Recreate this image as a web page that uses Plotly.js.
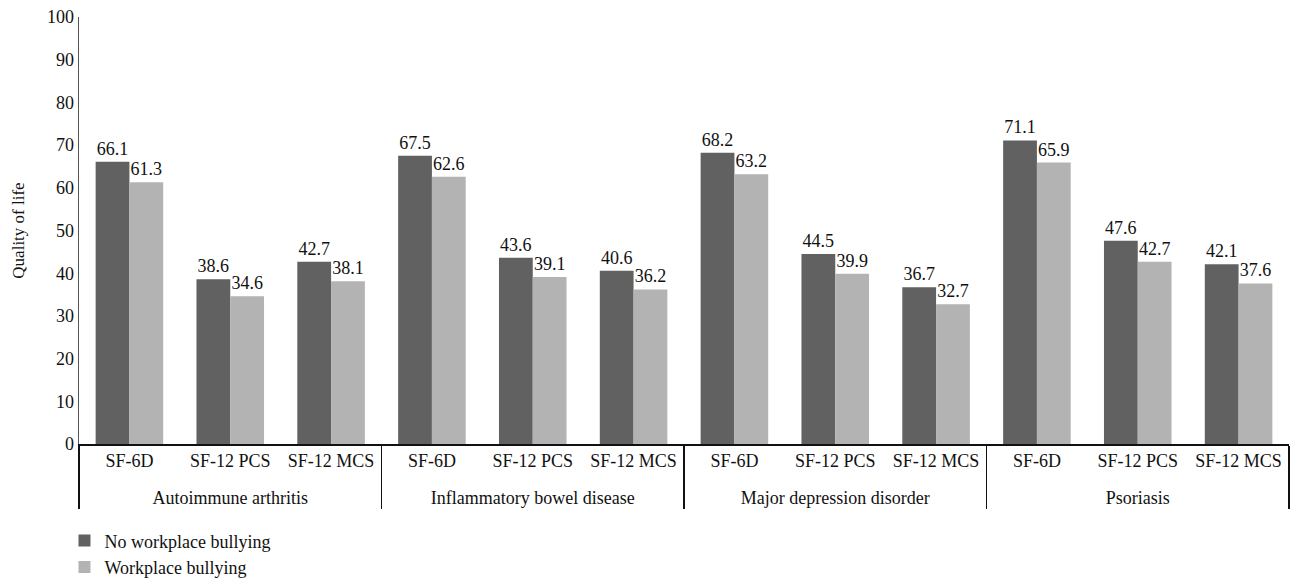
<!DOCTYPE html>
<html>
<head>
<meta charset="utf-8">
<script src="https://cdn.plot.ly/plotly-3.0.1.min.js"></script>
<style>html,body{margin:0;padding:0;background:#fff;}#chart{width:1292px;height:583px;}</style>
</head>
<body>
<div id="chart"></div>
<script>
const diseases = ["Autoimmune arthritis","Inflammatory bowel disease","Major depression disorder","Psoriasis"];
const measures = ["SF-6D","SF-12 PCS","SF-12 MCS"];
const noBullying = [66.1,38.6,42.7, 67.5,43.6,40.6, 68.2,44.5,36.7, 71.1,47.6,42.1];
const bullying   = [61.3,34.6,38.1, 62.6,39.1,36.2, 63.2,39.9,32.7, 65.9,42.7,37.6];
const seriesNames = ["No workplace bullying","Workplace bullying"];
const yTicks = [0,10,20,30,40,50,60,70,80,90,100];

// a tall non-breaking space on each side pushes the disease row lower, as in the reference
const PAD = "<span style='font-size:31px'>\u00A0</span>";
const lvl1 = [], lvl2 = [];
diseases.forEach(d => measures.forEach(m => { lvl1.push(d); lvl2.push(PAD + m + PAD); }));
const x = [lvl1, lvl2];
const FONT = "Liberation Serif, Times New Roman, serif";

function trace(vals, name, color){
  return {
    type: "bar", x: x, y: vals, name: name,
    marker: {color: color},
    text: vals.map(v => v.toFixed(1)),
    textposition: "outside",
    textfont: {family: FONT, size: 18, color: "#111"},
    cliponaxis: false,
    hoverinfo: "none"
  };
}

const data = [trace(noBullying, seriesNames[0], "#616161"), trace(bullying, seriesNames[1], "#b3b3b3")];

const layout = {
  width: 1292, height: 583,
  margin: {l: 79, r: 3, t: 17, b: 139},
  paper_bgcolor: "#fff", plot_bgcolor: "#fff",
  barmode: "group", bargap: 0.33, bargroupgap: 0,
  font: {family: FONT, size: 18, color: "#111"},
  xaxis: {
    type: "multicategory", automargin: false, tickangle: 0,
    showline: true, linecolor: "#111", linewidth: 1.5,
    showdividers: true, dividercolor: "#111", dividerwidth: 1.2,
    tickfont: {family: FONT, size: 18, color: "#111"},
    showgrid: false, zeroline: false, ticks: ""
  },
  yaxis: {
    range: [0, 100], tickvals: yTicks, ticktext: yTicks.map(String),
    showline: true, linecolor: "#555", linewidth: 1.5, automargin: false,
    showgrid: false, zeroline: false, ticks: "",
    tickfont: {family: FONT, size: 18, color: "#111"},
    title: {text: "Quality of life", font: {family: FONT, size: 17, color: "#111"}, standoff: 18}
  },
  showlegend: true,
  legend: {
    orientation: "v", x: -0.012, xanchor: "left",
    yref: "container", y: 0.104, yanchor: "top",
    font: {family: FONT, size: 18, color: "#111"},
    itemwidth: 30, tracegroupgap: 0
  }
};

Plotly.newPlot("chart", data, layout, {displayModeBar: false, staticPlot: true});
</script>
</body>
</html>
